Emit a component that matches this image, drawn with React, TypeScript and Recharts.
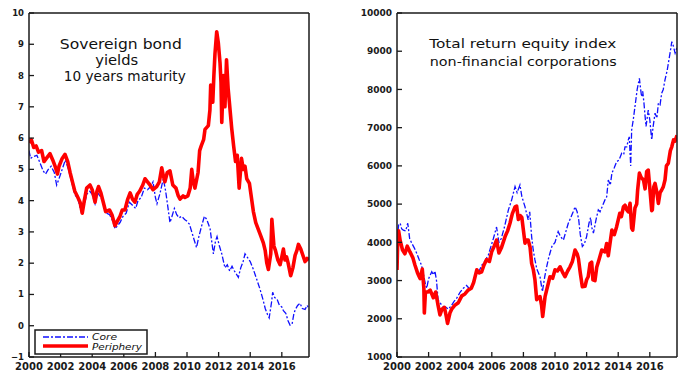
import React from 'react';
import { LineChart, Line, XAxis, YAxis } from 'recharts';

// ---------- Sovereign bond yields (10y) ----------
const periYieldYears = [2000.0,2000.15,2000.3,2000.45,2000.6,2000.8,2000.95,2001.1,2001.33,2001.5,2001.65,2001.8,2001.9,2002.1,2002.28,2002.45,2002.6,2002.75,2002.9,2003.05,2003.23,2003.37,2003.5,2003.65,2003.86,2004.0,2004.18,2004.3,2004.4,2004.55,2004.7,2004.85,2005.1,2005.25,2005.44,2005.6,2005.76,2005.9,2006.07,2006.25,2006.4,2006.55,2006.7,2006.85,2007.0,2007.2,2007.34,2007.5,2007.66,2007.85,2008.08,2008.25,2008.4,2008.5,2008.6,2008.75,2008.92,2009.1,2009.3,2009.45,2009.56,2009.75,2009.87,2010.05,2010.2,2010.3,2010.4,2010.5,2010.7,2010.8,2010.9,2011.05,2011.14,2011.35,2011.45,2011.5,2011.63,2011.7,2011.77,2011.88,2011.98,2012.09,2012.15,2012.2,2012.3,2012.4,2012.5,2012.6,2012.68,2012.83,2012.95,2013.07,2013.18,2013.3,2013.45,2013.56,2013.67,2013.78,2013.95,2014.2,2014.35,2014.5,2014.65,2014.83,2014.95,2015.05,2015.15,2015.3,2015.37,2015.5,2015.6,2015.75,2015.89,2016.0,2016.1,2016.2,2016.3,2016.4,2016.56,2016.7,2016.84,2016.95,2017.05,2017.2,2017.3,2017.47,2017.6,2017.72];
const periYields = [5.85,5.95,5.7,5.75,5.55,5.6,5.25,5.35,5.5,5.3,5.1,4.85,5.1,5.35,5.48,5.25,4.9,4.6,4.3,4.15,3.95,3.6,4.0,4.4,4.5,4.35,3.95,4.3,4.45,4.25,3.95,3.65,3.7,3.55,3.2,3.35,3.5,3.7,3.7,4.05,4.25,4.05,3.95,4.2,4.3,4.5,4.7,4.6,4.5,4.35,4.45,4.6,5.05,4.8,4.6,4.9,4.95,4.5,4.4,4.15,4.05,4.15,4.1,4.15,4.4,5.0,4.6,4.4,4.9,5.6,5.75,5.95,6.28,6.4,6.9,7.7,7.15,8.0,8.7,9.4,9.05,8.4,7.8,6.5,8.0,7.0,8.5,7.6,7.15,6.3,5.75,5.25,5.45,4.4,5.35,5.0,5.1,4.7,4.55,3.65,3.3,3.1,2.9,2.65,2.4,2.0,1.8,2.3,3.4,2.55,2.4,2.1,1.95,2.2,2.45,2.1,2.2,2.0,1.6,1.85,2.25,2.4,2.6,2.45,2.3,2.05,2.15,2.1];

const coreYieldYears = [2000.0,2000.1,2000.25,2000.5,2000.7,2000.9,2001.05,2001.22,2001.4,2001.6,2001.75,2001.9,2002.1,2002.3,2002.5,2002.7,2002.9,2003.1,2003.3,2003.5,2003.65,2003.85,2004.0,2004.18,2004.35,2004.55,2004.75,2004.9,2005.1,2005.3,2005.45,2005.6,2005.76,2005.95,2006.15,2006.35,2006.55,2006.75,2006.9,2007.1,2007.3,2007.5,2007.7,2007.85,2008.0,2008.1,2008.3,2008.5,2008.65,2008.8,2008.92,2009.05,2009.2,2009.35,2009.5,2009.66,2009.85,2009.98,2010.15,2010.3,2010.45,2010.6,2010.75,2010.93,2011.1,2011.25,2011.46,2011.55,2011.67,2011.8,2011.9,2012.05,2012.2,2012.4,2012.55,2012.7,2012.85,2013.0,2013.25,2013.4,2013.55,2013.67,2013.8,2014.0,2014.2,2014.4,2014.62,2014.8,2014.95,2015.1,2015.2,2015.35,2015.42,2015.55,2015.7,2015.85,2016.0,2016.1,2016.25,2016.4,2016.52,2016.65,2016.75,2016.84,2017.0,2017.15,2017.3,2017.47,2017.6,2017.72];
const coreYields = [5.6,5.35,5.4,5.45,5.2,4.95,4.85,5.0,5.1,4.9,4.5,4.7,5.0,5.3,5.0,4.6,4.2,4.05,3.65,3.85,4.2,4.3,4.2,3.9,4.25,4.1,3.85,3.6,3.55,3.35,3.1,3.2,3.3,3.5,3.6,3.95,3.85,3.75,4.0,4.1,4.4,4.35,4.45,4.6,4.1,3.9,4.25,4.7,4.3,3.75,3.3,3.5,3.75,3.55,3.45,3.5,3.4,3.35,3.25,3.0,2.75,2.5,2.85,3.2,3.5,3.4,3.1,2.75,2.3,2.7,2.85,2.55,2.3,1.85,1.95,1.75,1.9,1.75,1.55,1.85,2.05,2.3,2.2,2.05,1.8,1.5,1.17,0.85,0.55,0.35,0.25,0.75,1.07,0.9,0.85,0.65,0.6,0.48,0.4,0.15,0.02,0.05,0.35,0.5,0.65,0.72,0.55,0.52,0.65,0.55];

// ---------- Total return equity index ----------
const periEqYears = [2000.0,2000.05,2000.1,2000.2,2000.35,2000.5,2000.65,2000.82,2001.0,2001.14,2001.3,2001.46,2001.6,2001.7,2001.73,2001.8,2001.95,2002.1,2002.3,2002.45,2002.6,2002.72,2002.85,2003.0,2003.1,2003.2,2003.35,2003.46,2003.65,2003.88,2004.1,2004.3,2004.5,2004.7,2004.85,2005.05,2005.2,2005.36,2005.5,2005.67,2005.85,2005.99,2006.15,2006.3,2006.45,2006.6,2006.84,2007.0,2007.15,2007.3,2007.47,2007.57,2007.68,2007.8,2007.9,2008.1,2008.2,2008.3,2008.42,2008.52,2008.63,2008.73,2008.84,2008.94,2009.05,2009.15,2009.22,2009.37,2009.47,2009.68,2009.85,2010.0,2010.15,2010.32,2010.5,2010.63,2010.8,2010.95,2011.1,2011.27,2011.4,2011.48,2011.6,2011.73,2011.9,2012.0,2012.1,2012.22,2012.32,2012.4,2012.53,2012.64,2012.78,2012.96,2013.16,2013.27,2013.37,2013.6,2013.75,2013.9,2014.1,2014.2,2014.33,2014.43,2014.54,2014.64,2014.75,2014.85,2014.92,2015.06,2015.17,2015.23,2015.34,2015.45,2015.6,2015.7,2015.8,2015.9,2016.01,2016.12,2016.16,2016.25,2016.33,2016.45,2016.54,2016.65,2016.75,2016.85,2016.96,2017.05,2017.17,2017.3,2017.39,2017.5,2017.6,2017.72];
const periEq = [3276,4100,4300,4050,3800,3700,3900,3750,3600,3400,3200,3050,3300,2800,2150,2700,2700,2750,2550,2700,2350,2100,2250,2300,2100,1880,2150,2250,2350,2420,2600,2650,2750,2800,2950,3280,3200,3230,3400,3550,3500,3750,3900,4060,3720,3850,4150,4300,4500,4750,4930,4950,4600,4700,4650,3980,4060,4060,3880,3450,3280,3020,2500,2550,2580,2350,2060,2580,2750,3100,3060,3280,3250,3360,3200,3100,3250,3360,3500,3800,3700,3580,3200,2840,2850,3020,3100,3450,3480,3020,3000,3350,3540,3800,3750,3970,3650,4320,4200,4410,4760,4670,4930,4970,4850,4800,5020,4370,4320,4900,5000,5370,5810,5700,5630,5400,5850,5890,5370,4830,4850,5450,5540,5300,5020,5300,5370,5450,5630,6000,6070,6400,6500,6680,6650,6800];

const coreEqYears = [2000.0,2000.1,2000.2,2000.3,2000.4,2000.55,2000.68,2000.8,2000.93,2001.1,2001.25,2001.4,2001.55,2001.66,2001.8,2001.88,2002.0,2002.2,2002.3,2002.4,2002.5,2002.6,2002.75,2002.93,2003.1,2003.25,2003.45,2003.6,2003.78,2004.0,2004.2,2004.4,2004.6,2004.8,2005.0,2005.2,2005.36,2005.55,2005.78,2005.95,2006.1,2006.3,2006.45,2006.6,2006.8,2007.05,2007.25,2007.47,2007.6,2007.78,2007.9,2008.1,2008.3,2008.4,2008.52,2008.62,2008.73,2008.85,2009.05,2009.2,2009.35,2009.47,2009.6,2009.8,2010.0,2010.2,2010.35,2010.53,2010.7,2010.84,2011.0,2011.15,2011.27,2011.4,2011.5,2011.6,2011.73,2011.85,2012.0,2012.15,2012.25,2012.32,2012.43,2012.6,2012.74,2012.85,2013.0,2013.16,2013.27,2013.37,2013.5,2013.6,2013.75,2013.9,2014.05,2014.22,2014.35,2014.43,2014.54,2014.65,2014.7,2014.79,2014.85,2014.95,2015.06,2015.2,2015.34,2015.42,2015.48,2015.55,2015.63,2015.7,2015.76,2015.9,2016.0,2016.12,2016.2,2016.33,2016.45,2016.54,2016.65,2016.75,2016.85,2016.96,2017.1,2017.17,2017.3,2017.39,2017.48,2017.6,2017.72];
const coreEq = [4000,4450,4500,4350,4320,4300,4500,4100,3980,3850,3710,3550,3400,3190,2900,2800,3050,3230,3150,3250,3000,2490,2400,2320,2300,2250,2350,2450,2540,2700,2800,2870,2780,2900,3150,3250,3400,3500,3670,3900,4100,4400,4000,4100,4400,4850,5100,5460,5300,5500,5200,4930,4590,4800,4150,3800,3540,3300,3100,2710,3100,3360,3600,3890,4000,4280,4150,4060,4300,4500,4650,4800,4930,4800,4590,4200,3890,3950,4150,4500,4650,4400,4240,4600,4850,4800,4950,5110,5190,5630,5500,5810,5950,6110,6150,6330,6300,6500,6500,6700,6760,6000,6940,7200,7550,8000,8290,8000,7810,7950,7640,7300,7030,7460,7200,6680,7000,7380,7250,7640,7600,7900,8000,8250,8500,8680,9000,9250,9150,8950,9100];

const yearTicks = [2000, 2002, 2004, 2006, 2008, 2010, 2012, 2014, 2016];
const yieldTicks = [-1, 0, 1, 2, 3, 4, 5, 6, 7, 8, 9, 10];
const equityTicks = [1000, 2000, 3000, 4000, 5000, 6000, 7000, 8000, 9000, 10000];

const seriesNames = ['Core', 'Periphery'];
const leftTitle = ['Sovereign bond', 'yields', '10 years maturity'];
const rightTitle = ['Total return equity index', 'non-financial corporations'];

const toPoints = (xs: number[], ys: number[]) => xs.map((x, i) => ({ x, y: ys[i] }));

const periYieldData = toPoints(periYieldYears, periYields);
const coreYieldData = toPoints(coreYieldYears, coreYields);
const periEqData = toPoints(periEqYears, periEq);
const coreEqData = toPoints(coreEqYears, coreEq);

const X_DOMAIN: [number, number] = [2000, 2017.72];
const AX = '#1a1a1a';
const FONT = 'DejaVu Sans';
const BLUE = '#1010ff';
const RED = '#ff0000';
const DASH = '6 2 2 2';

const axisLine = { stroke: AX, strokeWidth: 1.5 };
const tickLine = { stroke: AX, strokeWidth: 1.3 };

function Panel(props: {
  width: number; marginLeft: number; marginRight: number; yWidth: number;
  yDomain: [number, number]; yTicks: number[]; yFont: number;
  core: { x: number; y: number }[]; peri: { x: number; y: number }[];
  yFmt?: (v: number) => string;
}) {
  const { width, marginLeft, marginRight, yWidth, yDomain, yTicks, yFont, core, peri, yFmt } = props;
  return (
    <LineChart width={width} height={379} margin={{ top: 13, right: marginRight, bottom: 0, left: marginLeft }}>
      <XAxis xAxisId="b" dataKey="x" type="number" domain={X_DOMAIN} ticks={yearTicks} allowDataOverflow
        height={22} axisLine={axisLine} tickLine={tickLine} tickSize={-5} tickMargin={11} interval={0}
        tick={{ fill: AX, fontSize: 10, fontWeight: 'bold', fontFamily: FONT }} />
      <XAxis xAxisId="t" orientation="top" mirror dataKey="x" type="number" domain={X_DOMAIN} ticks={yearTicks}
        allowDataOverflow axisLine={axisLine} tickLine={tickLine} tickSize={5} tick={false} interval={0} />
      <YAxis yAxisId="l" type="number" domain={yDomain} ticks={yTicks} allowDataOverflow width={yWidth}
        axisLine={axisLine} tickLine={tickLine} tickSize={-5} tickMargin={10} interval={0}
        tickFormatter={yFmt}
        tick={{ fill: AX, fontSize: yFont, fontWeight: 'bold', fontFamily: FONT }} />
      <YAxis yAxisId="r" orientation="right" mirror type="number" domain={yDomain} ticks={yTicks} allowDataOverflow
        axisLine={axisLine} tickLine={tickLine} tickSize={5} tick={false} interval={0} />
      <Line data={core} dataKey="y" xAxisId="b" yAxisId="l" type="linear" stroke={BLUE} strokeWidth={1.3}
        strokeDasharray={DASH} dot={false} activeDot={false} isAnimationActive={false} name={seriesNames[0]} />
      <Line data={peri} dataKey="y" xAxisId="b" yAxisId="l" type="linear" stroke={RED} strokeWidth={3.6}
        dot={false} activeDot={false} isAnimationActive={false} name={seriesNames[1]} strokeLinejoin="round" />
    </LineChart>
  );
}

export default function App() {
  const titleStyle = { fontFamily: FONT, fill: '#111' } as const;
  return (
    <div style={{ position: 'absolute', left: 0, top: 0, width: 697, height: 379, background: '#fff', overflow: 'hidden' }}>
      <div style={{ position: 'absolute', left: 0, top: 0 }}>
        <Panel width={340} marginLeft={0} marginRight={31} yWidth={29} yDomain={[-1, 10]} yTicks={yieldTicks}
          yFont={8.5} core={coreYieldData} peri={periYieldData}
          yFmt={(v: number) => (v < 0 ? '\u2212' + Math.abs(v) : String(v))} />
      </div>
      <div style={{ position: 'absolute', left: 340, top: 0 }}>
        <Panel width={357} marginLeft={17} marginRight={20} yWidth={40} yDomain={[1000, 10000]} yTicks={equityTicks}
          yFont={9} core={coreEqData} peri={periEqData} />
      </div>
      <svg width={697} height={379} style={{ position: 'absolute', left: 0, top: 0, pointerEvents: 'none' }}>
        <text x={120.8} y={49} textAnchor="middle" fontSize={14} textLength={122} lengthAdjust="spacingAndGlyphs" {...titleStyle}>{leftTitle[0]}</text>
        <text x={116.7} y={64.5} textAnchor="middle" fontSize={14} textLength={43} lengthAdjust="spacingAndGlyphs" {...titleStyle}>{leftTitle[1]}</text>
        <text x={124.8} y={81} textAnchor="middle" fontSize={14} textLength={122} lengthAdjust="spacingAndGlyphs" {...titleStyle}>{leftTitle[2]}</text>
        <text x={522.7} y={47.7} textAnchor="middle" fontSize={13} textLength={187} lengthAdjust="spacingAndGlyphs" {...titleStyle}>{rightTitle[0]}</text>
        <text x={523.3} y={66} textAnchor="middle" fontSize={13} textLength={187} lengthAdjust="spacingAndGlyphs" {...titleStyle}>{rightTitle[1]}</text>
        <g>
          <rect x={35} y={330} width={112} height={24} fill="#fff" stroke={AX} strokeWidth={1.5} />
          <line x1={43} y1={337} x2={88} y2={337} stroke={BLUE} strokeWidth={1.3} strokeDasharray={DASH} />
          <line x1={43} y1={346} x2={88} y2={346} stroke={RED} strokeWidth={3.6} />
          <text x={92} y={340} fontSize={8.5} fontStyle="italic" textLength={25} lengthAdjust="spacingAndGlyphs" {...titleStyle}>{seriesNames[0]}</text>
          <text x={92} y={350} fontSize={8.5} fontStyle="italic" textLength={50} lengthAdjust="spacingAndGlyphs" {...titleStyle}>{seriesNames[1]}</text>
        </g>
      </svg>
    </div>
  );
}
